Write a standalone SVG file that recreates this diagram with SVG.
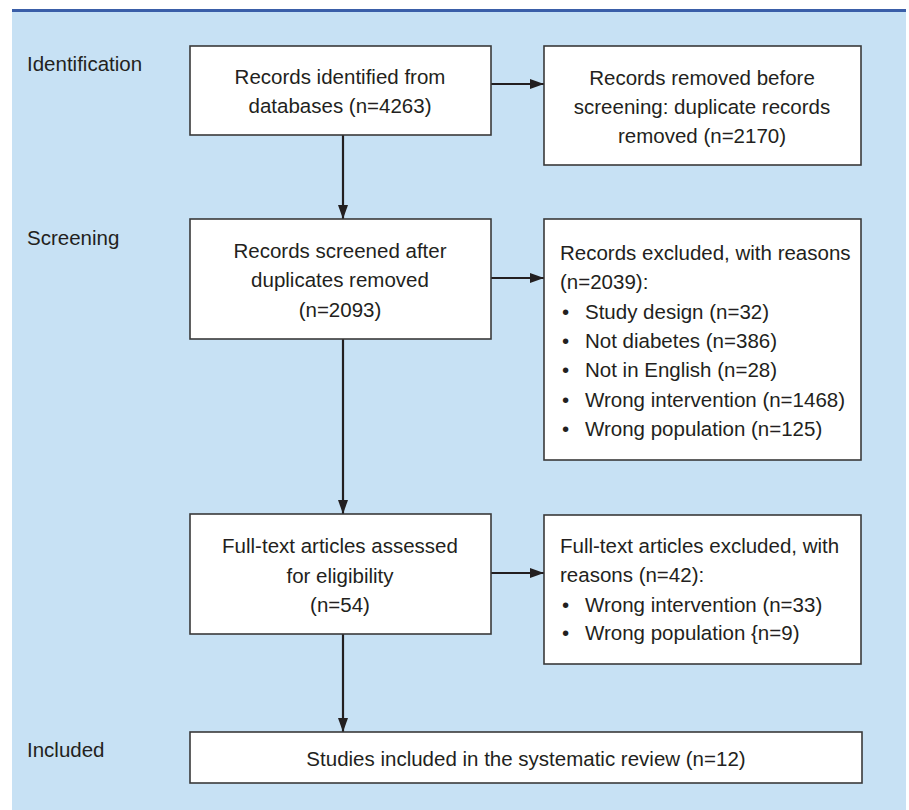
<svg xmlns="http://www.w3.org/2000/svg" width="909" height="810" viewBox="0 0 909 810">
<defs>
<style>
.box{fill:#ffffff;stroke:#3a3a3a;stroke-width:1.6}
.t{font-family:"Liberation Sans",Arial,sans-serif;font-size:20.5px;fill:#231f20}
.c{text-anchor:middle}
.lbl{font-family:"Liberation Sans",Arial,sans-serif;font-size:20.5px;fill:#231f20}
.conn{stroke:#231f20;stroke-width:2.2;fill:none}
</style>
<marker id="ah" viewBox="0 0 14 10" refX="14" refY="5" markerWidth="14" markerHeight="10" markerUnits="userSpaceOnUse" orient="auto">
<path d="M0,0 L14,5 L0,10 Z" fill="#231f20"/>
</marker>
</defs>
<rect x="0" y="0" width="909" height="810" fill="#ffffff"/>
<rect x="12" y="11" width="894" height="799" fill="#c7e1f4"/>
<rect x="12" y="9" width="894" height="3" fill="#3a5ea8"/>

<g id="stage-labels">
<text class="lbl" x="27" y="71">Identification</text>
<text class="lbl" x="27" y="245">Screening</text>
<text class="lbl" x="27" y="757">Included</text>
</g>

<g id="connectors">
<line class="conn" x1="491" y1="84" x2="544" y2="84" marker-end="url(#ah)"/>
<line class="conn" x1="343" y1="135" x2="343" y2="219" marker-end="url(#ah)"/>
<line class="conn" x1="491" y1="278" x2="544" y2="278" marker-end="url(#ah)"/>
<line class="conn" x1="343" y1="339" x2="343" y2="514" marker-end="url(#ah)"/>
<line class="conn" x1="491" y1="573" x2="544" y2="573" marker-end="url(#ah)"/>
<line class="conn" x1="343" y1="634" x2="343" y2="732" marker-end="url(#ah)"/>
</g>

<g id="identified">
<rect class="box" x="190" y="46" width="301" height="89"/>
<text class="t c" x="340" y="84">Records identified from</text>
<text class="t c" x="340" y="113">databases (n=4263)</text>
</g>

<g id="removed">
<rect class="box" x="544" y="46" width="317" height="119"/>
<text class="t c" x="702" y="85">Records removed before</text>
<text class="t c" x="702" y="114">screening: duplicate records</text>
<text class="t c" x="702" y="143">removed (n=2170)</text>
</g>

<g id="screened">
<rect class="box" x="190" y="219" width="301" height="120"/>
<text class="t c" x="340" y="258">Records screened after</text>
<text class="t c" x="340" y="287">duplicates removed</text>
<text class="t c" x="340" y="317">(n=2093)</text>
</g>

<g id="excluded">
<rect class="box" x="544" y="219" width="317" height="241"/>
<text class="t" x="560" y="260">Records excluded, with reasons</text>
<text class="t" x="560" y="289">(n=2039):</text>
<text class="t" x="562" y="319">•</text><text class="t" x="585" y="319">Study design (n=32)</text>
<text class="t" x="562" y="348">•</text><text class="t" x="585" y="348">Not diabetes (n=386)</text>
<text class="t" x="562" y="377">•</text><text class="t" x="585" y="377">Not in English (n=28)</text>
<text class="t" x="562" y="407">•</text><text class="t" x="585" y="407">Wrong intervention (n=1468)</text>
<text class="t" x="562" y="436">•</text><text class="t" x="585" y="436">Wrong population (n=125)</text>
</g>

<g id="fulltext">
<rect class="box" x="190" y="514" width="301" height="120"/>
<text class="t c" x="340" y="553">Full-text articles assessed</text>
<text class="t c" x="340" y="583">for eligibility</text>
<text class="t c" x="340" y="612">(n=54)</text>
</g>

<g id="ft-excluded">
<rect class="box" x="544" y="515" width="317" height="149"/>
<text class="t" x="560" y="553">Full-text articles excluded, with</text>
<text class="t" x="560" y="582">reasons (n=42):</text>
<text class="t" x="562" y="612">•</text><text class="t" x="585" y="612">Wrong intervention (n=33)</text>
<text class="t" x="562" y="640">•</text><text class="t" x="585" y="640">Wrong population {n=9)</text>
</g>

<g id="included">
<rect class="box" x="190" y="732" width="672" height="51"/>
<text class="t c" x="526" y="766">Studies included in the systematic review (n=12)</text>
</g>
</svg>
